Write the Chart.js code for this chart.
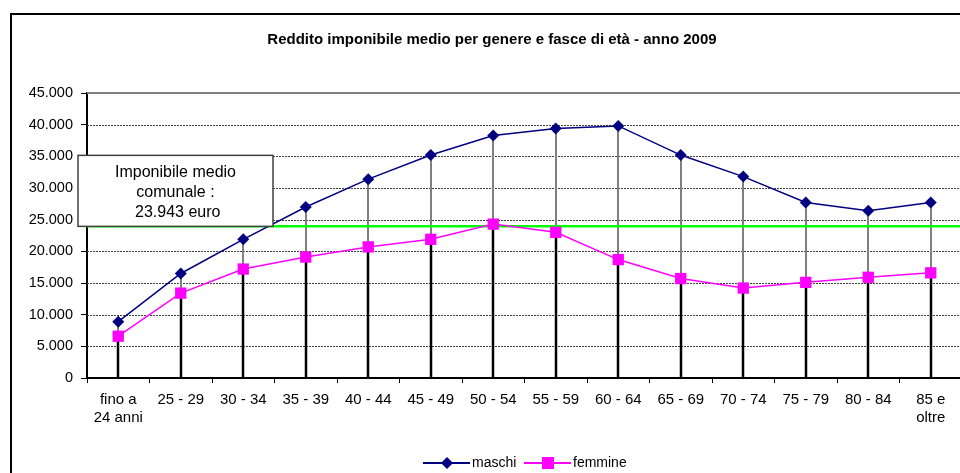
<!DOCTYPE html>
<html>
<head>
<meta charset="utf-8">
<script src="https://cdn.jsdelivr.net/npm/chart.js@4.4.1/dist/chart.umd.min.js"></script>
<style>
  html, body { margin: 0; padding: 0; background: #fff; overflow: hidden; }
  #wrap { width: 960px; height: 473px; overflow: hidden; position: relative; }
  #chart { position: absolute; left: 0; top: 0; }
</style>
</head>
<body>
<div id="wrap"><canvas id="chart" width="980" height="473"></canvas></div>
<script>
const categories = [['fino a', '24 anni'], '25 - 29', '30 - 34', '35 - 39', '40 - 44', '45 - 49', '50 - 54',
  '55 - 59', '60 - 64', '65 - 69', '70 - 74', '75 - 79', '80 - 84', ['85 e', 'oltre']];
const maschi = [8900, 16500, 21900, 27000, 31400, 35200, 38300, 39400, 39800, 35200, 31800, 27700, 26400, 27700];
const femmine = [6600, 13400, 17200, 19100, 20700, 21900, 24300, 23000, 18700, 15700, 14200, 15100, 15900, 16600];
const mediaComunale = 23943;
const yTickLabels = ['0', '5.000', '10.000', '15.000', '20.000', '25.000', '30.000', '35.000', '40.000', '45.000'];
const titleText = 'Reddito imponibile medio per genere e fasce di età - anno 2009';
const boxLines = ['Imponibile medio', 'comunale :', ' 23.943 euro'];

const FONT = '"Liberation Sans", Arial, sans-serif';
const NAVY = '#000080';
const MAGENTA = '#ff00ff';

// grid, drop lines, average line, title, annotation, legend
const decor = {
  id: 'decor',
  beforeDatasetsDraw(chart) {
    const { ctx, chartArea: a, scales: { y } } = chart;
    ctx.save();
    ctx.strokeStyle = '#404040';
    ctx.lineWidth = 1;
    ctx.setLineDash([2, 1]);
    for (let v = 5000; v < 45000; v += 5000) {
      const py = Math.round(y.getPixelForValue(v)) + 0.5;
      ctx.beginPath(); ctx.moveTo(a.left, py); ctx.lineTo(a.right, py); ctx.stroke();
    }
    ctx.setLineDash([]);
    ctx.strokeStyle = '#808080';
    ctx.lineWidth = 2;
    const top = y.getPixelForValue(45000);
    ctx.beginPath(); ctx.moveTo(a.left, top); ctx.lineTo(a.right, top); ctx.stroke();

    const mm = chart.getDatasetMeta(0).data;
    const fm = chart.getDatasetMeta(1).data;
    mm.forEach((p, i) => {
      const f = fm[i];
      const px = Math.round(p.x);
      ctx.strokeStyle = '#808080';
      ctx.lineWidth = 2;
      ctx.beginPath(); ctx.moveTo(px, p.y); ctx.lineTo(px, f.y); ctx.stroke();
      ctx.strokeStyle = '#000';
      ctx.lineWidth = 2.5;
      ctx.beginPath(); ctx.moveTo(px, f.y); ctx.lineTo(px, a.bottom); ctx.stroke();
    });

    ctx.strokeStyle = '#00ff00';
    ctx.lineWidth = 2.5;
    const gy = y.getPixelForValue(mediaComunale);
    ctx.beginPath(); ctx.moveTo(a.left, gy); ctx.lineTo(a.right, gy); ctx.stroke();
    ctx.restore();
  },
  afterDraw(chart) {
    const { ctx, chartArea: a, scales: { y } } = chart;
    ctx.save();
    // outer frame
    ctx.strokeStyle = '#000';
    ctx.lineWidth = 2;
    ctx.strokeRect(11, 14, 1100, 1100);

    // title
    ctx.fillStyle = '#000';
    ctx.font = 'bold 15px "Liberation Sans Narrow", ' + FONT;
    ctx.textAlign = 'center';
    ctx.textBaseline = 'middle';
    ctx.fillText(titleText, 492, 40);

    // annotation box
    const bottom = y.getPixelForValue(mediaComunale);
    const bx = a.left - 9, bw = 195, bh = 71, by = bottom - bh;
    ctx.fillStyle = '#fff';
    ctx.fillRect(bx, by, bw, bh);
    ctx.strokeStyle = '#404040';
    ctx.lineWidth = 1.5;
    ctx.strokeRect(bx, by, bw, bh);
    ctx.fillStyle = '#000';
    ctx.font = '16px ' + FONT;
    boxLines.forEach((t, i) => ctx.fillText(t, bx + bw / 2, by + 17 + i * 20));

    // legend
    const ly = 463;
    ctx.lineWidth = 2;
    ctx.strokeStyle = NAVY;
    ctx.beginPath(); ctx.moveTo(423, ly); ctx.lineTo(470, ly); ctx.stroke();
    ctx.fillStyle = NAVY;
    ctx.beginPath();
    ctx.moveTo(447, ly - 6); ctx.lineTo(453, ly); ctx.lineTo(447, ly + 6); ctx.lineTo(441, ly);
    ctx.closePath(); ctx.fill();
    ctx.strokeStyle = MAGENTA;
    ctx.beginPath(); ctx.moveTo(524, ly); ctx.lineTo(571, ly); ctx.stroke();
    ctx.fillStyle = MAGENTA;
    ctx.fillRect(542, ly - 6, 12, 12);
    ctx.fillStyle = '#000';
    ctx.font = '14px ' + FONT;
    ctx.textAlign = 'left';
    ctx.fillText('maschi', 472, ly);
    ctx.fillText('femmine', 573, ly);
    ctx.restore();
  }
};

new Chart(document.getElementById('chart'), {
  type: 'line',
  data: {
    labels: categories,
    datasets: [
      {
        label: 'maschi',
        data: maschi,
        borderColor: NAVY,
        backgroundColor: NAVY,
        borderWidth: 1.5,
        pointStyle: 'rectRot',
        pointRadius: 6,
        pointBorderWidth: 0,
        tension: 0
      },
      {
        label: 'femmine',
        data: femmine,
        borderColor: MAGENTA,
        backgroundColor: MAGENTA,
        borderWidth: 1.5,
        pointStyle: 'rect',
        pointRadius: 8,
        pointBorderWidth: 0,
        tension: 0
      }
    ]
  },
  options: {
    responsive: false,
    animation: false,
    layout: { padding: { top: 93, right: 18, bottom: 0, left: 0 } },
    plugins: {
      legend: { display: false },
      title: { display: false },
      tooltip: { enabled: false }
    },
    scales: {
      x: {
        offset: true,
        grid: { offset: true, drawOnChartArea: false, color: '#000', tickLength: 5, lineWidth: 1 },
        border: { color: '#000', width: 2 },
        ticks: { color: '#000', font: { family: FONT, size: 15, lineHeight: 1.25 }, padding: 7, maxRotation: 0, autoSkip: false },
        afterFit(scale) { scale.height = 95; }
      },
      y: {
        min: 0,
        max: 45000,
        grid: { drawOnChartArea: false, color: '#000', tickLength: 6 },
        border: { color: '#000', width: 2 },
        ticks: {
          stepSize: 5000,
          color: '#000',
          padding: 8,
          font: { family: FONT, size: 14.5 },
          callback: (v, i) => yTickLabels[i]
        },
        afterFit(scale) { scale.width = 87; }
      }
    }
  },
  plugins: [decor]
});
</script>
</body>
</html>
